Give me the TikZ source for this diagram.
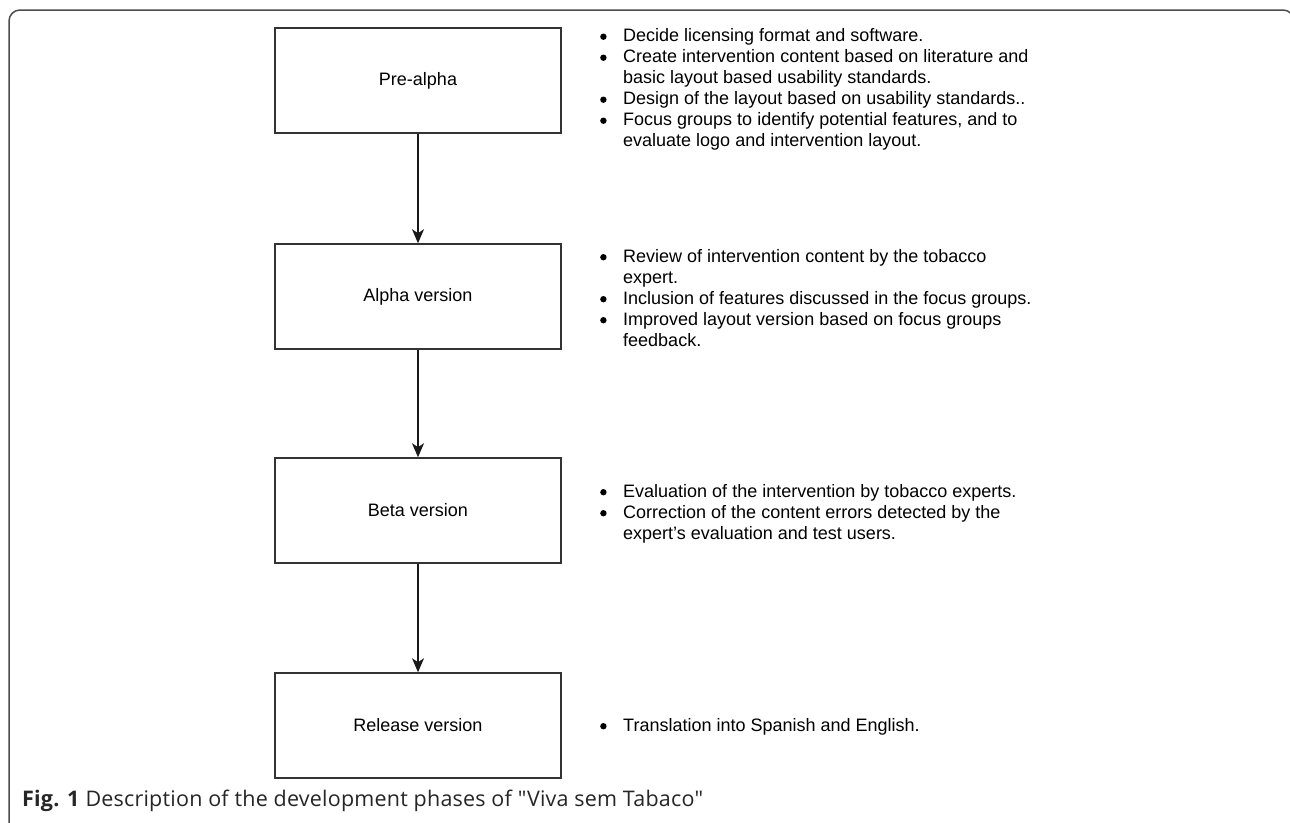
\documentclass[tikz,border=0pt]{standalone}
\usepackage{fontspec}
\setmainfont{Liberation Sans}
\newfontfamily\capfont[LetterSpace=1]{Open Sans}
\usetikzlibrary{positioning}
\usetikzlibrary{arrows.meta}
\newcommand{\itembullet}{\makebox[23pt][l]{\tikz[baseline={(0pt,-5pt)}]\fill (0pt,0pt) circle (3.2pt);}}

\begin{document}
\begin{tikzpicture}[x=1pt,y=-1pt]
    \tikzset{
    phase/.style={
        rectangle,
        draw=black!80, line width=1.5pt,
        minimum width=286pt, minimum height=105pt,
        font=\fontsize{18}{21}\selectfont
    },
    notes/.style={
        anchor=west, inner sep=0pt, align=left,
        font=\fontsize{18}{21}\selectfont
    },
    link/.style={
        -{Stealth[length=14pt,width=12pt,inset=4pt]},
        line width=1.2pt, black!90
    }
    }
    \useasboundingbox (0,0) rectangle (1290,822);
    % outer frame
    \draw[black!70, line width=1.5pt, rounded corners=11pt] (9,10) rectangle (1294,850);

        \node (pre)[phase] at (418,80.5) {Pre-alpha};
        \node (alpha)[phase] at (418,296.5) {Alpha version};
        \node (beta)[phase] at (418,510.5) {Beta version};
        \node (release)[phase] at (418,725.5) {Release version};

        \node (pretxt)[notes] at (600,90) {\begin{tabular}{@{}l@{}l@{}}
            \itembullet & Decide licensing format and software.\\
            \itembullet & Create intervention content based on literature and\\
             & basic layout based usability standards.\\
            \itembullet & Design of the layout based on usability standards..\\
            \itembullet & Focus groups to identify potential features, and to\\
             & evaluate logo and intervention layout.
        \end{tabular}};
        \node (alphatxt)[notes] at (600,300) {\begin{tabular}{@{}l@{}l@{}}
            \itembullet & Review of intervention content by the tobacco\\
             & expert.\\
            \itembullet & Inclusion of features discussed in the focus groups.\\
            \itembullet & Improved layout version based on focus groups\\
             & feedback.
        \end{tabular}};
        \node (betatxt)[notes] at (600,514) {\begin{tabular}{@{}l@{}l@{}}
            \itembullet & Evaluation of the intervention by tobacco experts.\\
            \itembullet & Correction of the content errors detected by the\\
             & expert's evaluation and test users.
        \end{tabular}};
        \node (releasetxt)[notes] at (600,727) {\begin{tabular}{@{}l@{}l@{}}
            \itembullet & Translation into Spanish and English.
        \end{tabular}};

        \draw[link] (pre) -- (alpha);
        \draw[link] (alpha) -- (beta);
        \draw[link] (beta) -- (release);

        \node (caption)[anchor=west, inner sep=0pt, font=\capfont\fontsize{21.5}{24}\selectfont, text=black!85] at (22,801)
            {\textbf{Fig. 1} Description of the development phases of "Viva sem Tabaco"};
    \end{tikzpicture}
\end{document}
